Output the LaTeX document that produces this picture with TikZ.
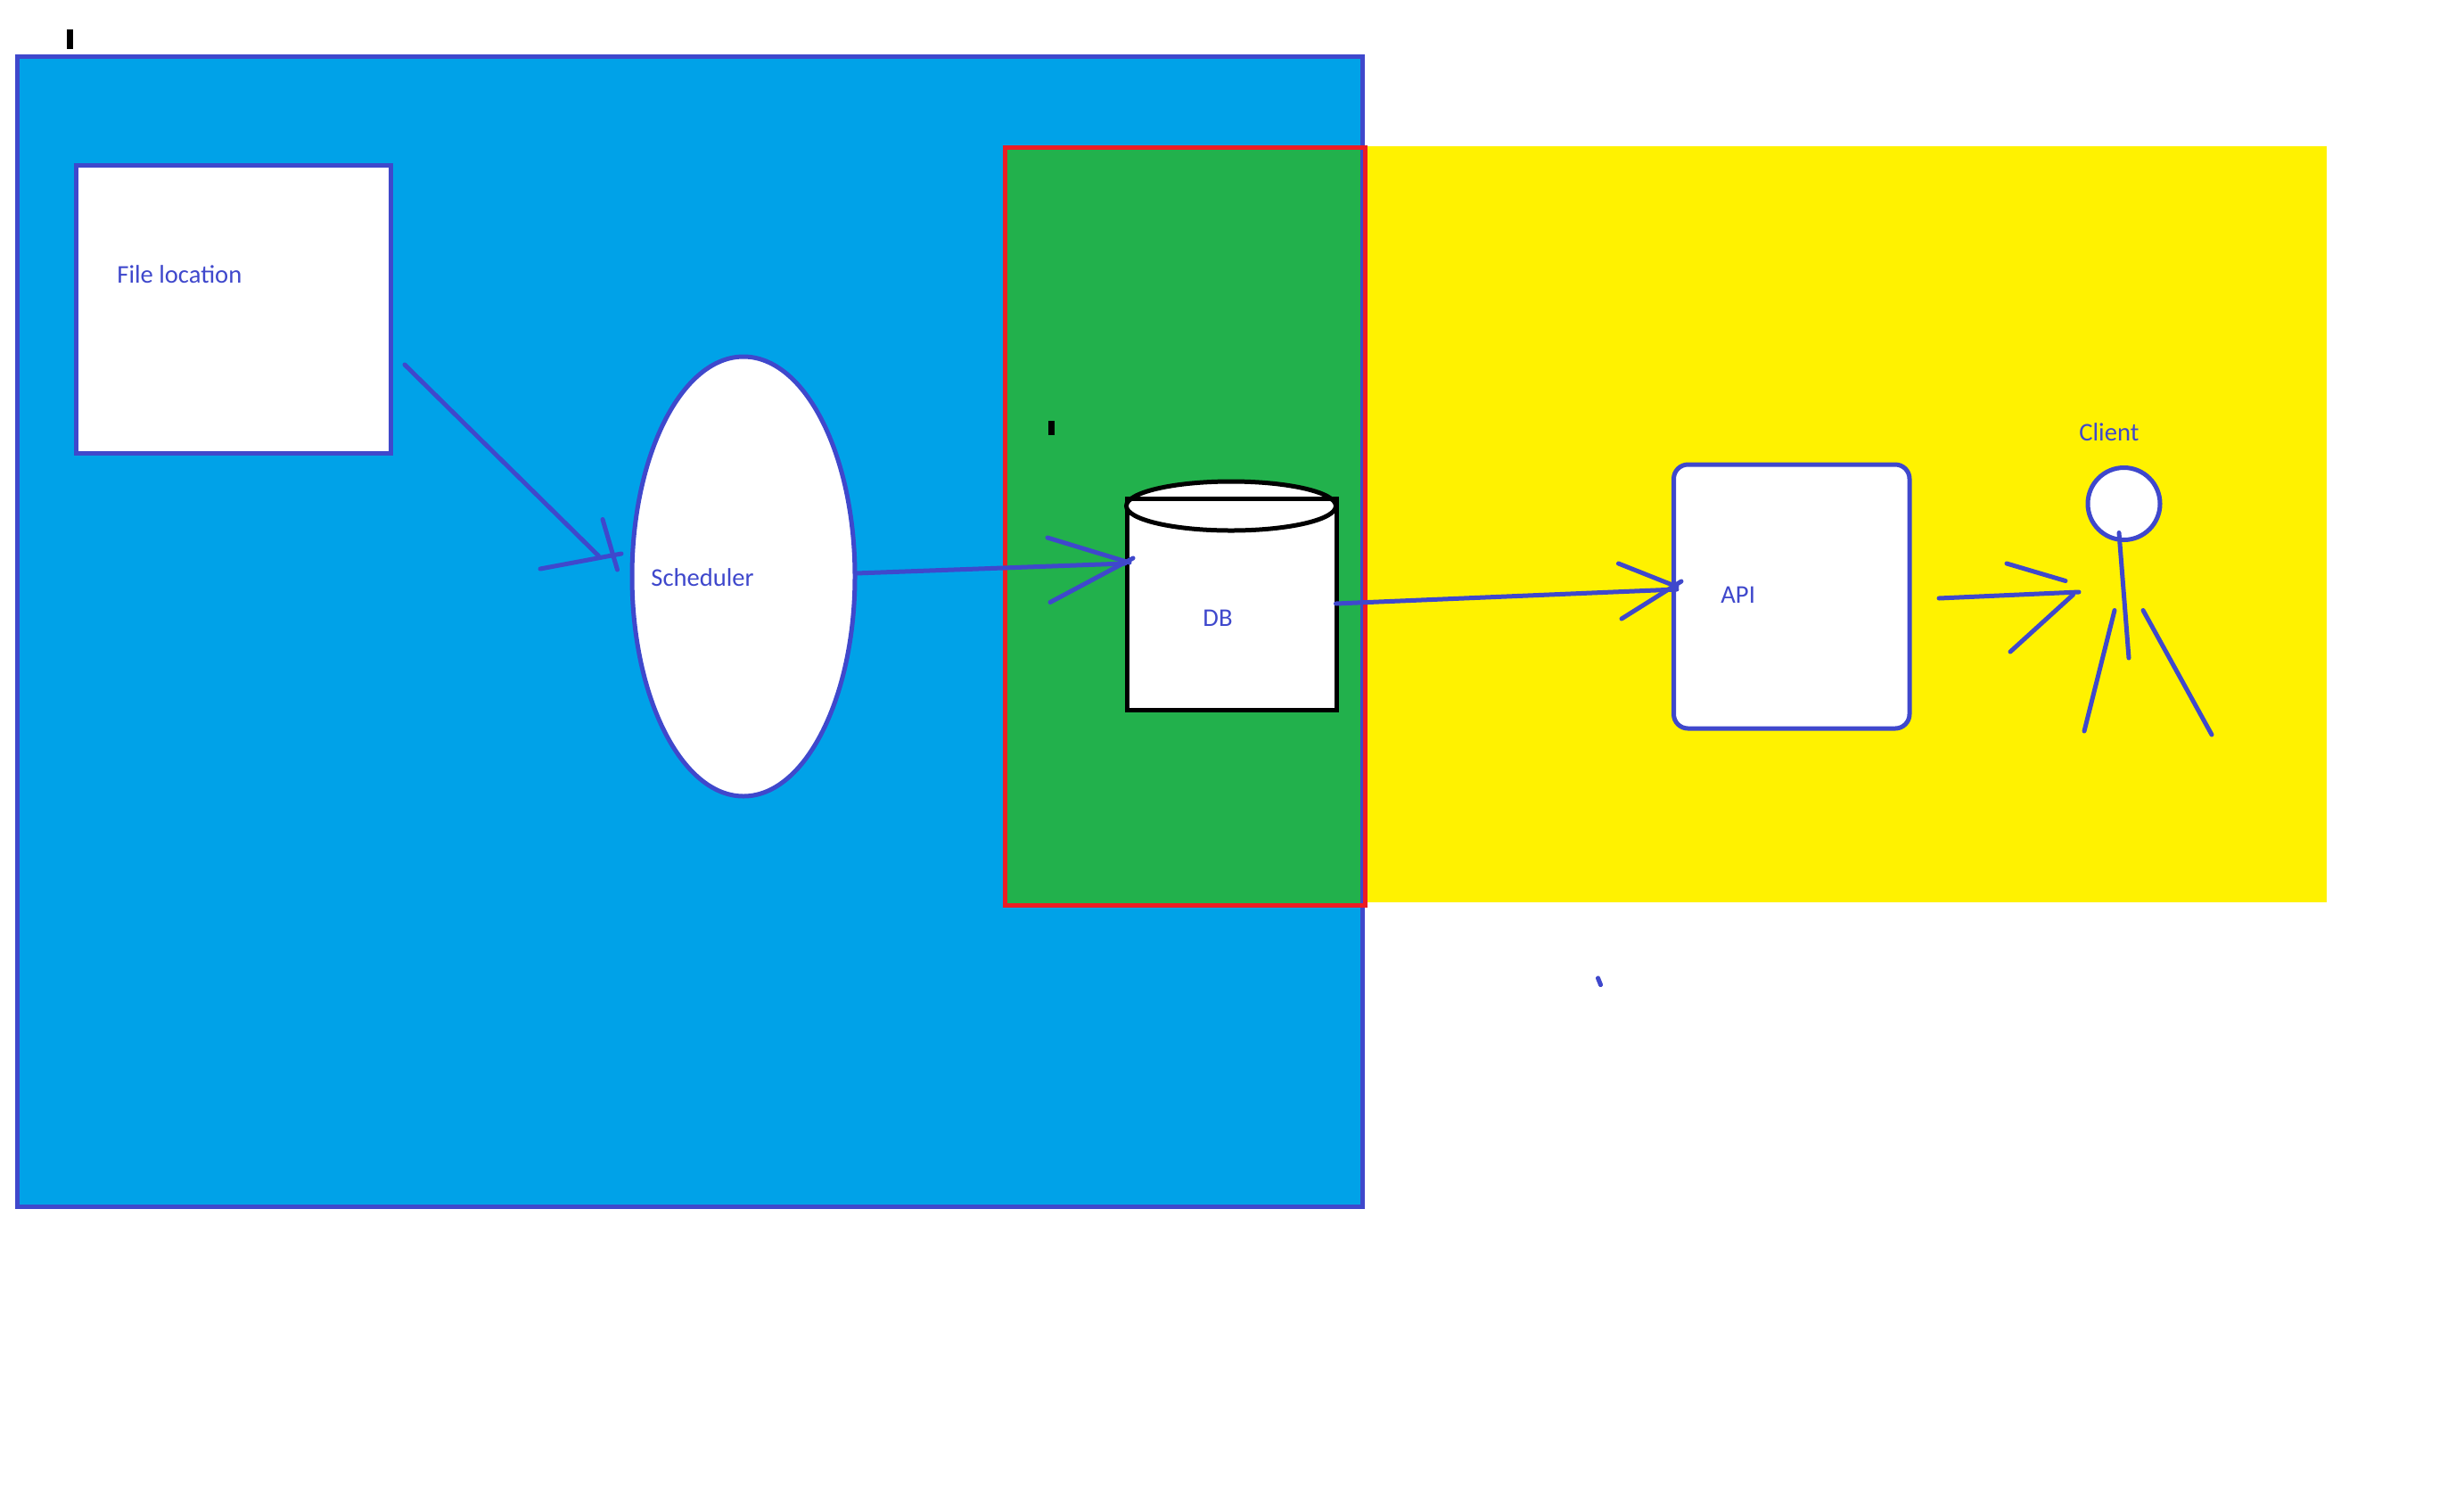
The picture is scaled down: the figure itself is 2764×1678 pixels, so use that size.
\documentclass[tikz,border=0pt]{standalone}
\usepackage{fontspec}
\setmainfont{Carlito}
\usetikzlibrary{shapes.geometric}
\definecolor{PaintIndigo}{HTML}{3F48CC}
\definecolor{PaintBlue}{HTML}{00A2E8}
\definecolor{PaintGreen}{HTML}{22B14C}
\definecolor{PaintYellow}{HTML}{FFF200}
\definecolor{PaintRed}{HTML}{ED1C24}
\tikzset{
  box/.style={draw=PaintIndigo, fill=white, line width=2.5pt, inner sep=0pt, outer sep=0pt, anchor=north west},
  pen/.style={draw=PaintIndigo, line width=2.5pt, line cap=round},
  label/.style={text=PaintIndigo, font=\fontsize{14.3}{16}\selectfont, inner sep=0pt, anchor=base west},
  region/.style={inner sep=0pt, outer sep=0pt, anchor=north west, minimum width=#1},
  dot/.style={fill=black, inner sep=0pt, outer sep=0pt, minimum width=3.5pt, minimum height=11pt}
}
\begin{document}
\begin{tikzpicture}[x=0.5pt, y=-0.5pt]
    \useasboundingbox (0,0) rectangle (2764,1678);
    \fill[white] (0,0) rectangle (2764,1678);

    % Regions
    \node[region=754.5pt, fill=PaintBlue, minimum height=644.75pt] (outer) at (19.5,63.5) {};
    \node[region=540pt, fill=PaintYellow, minimum height=424pt] (yellow) at (1530,164) {};
    \node[region=202pt, fill=PaintGreen, minimum height=425.25pt] (green) at (1127,165) {};
    \draw[PaintIndigo, line width=2.5pt] (outer.north west) rectangle (outer.south east);
    \draw[PaintRed, line width=2.5pt] (green.north west) rectangle (green.south east);

    % Boxes
    \node[box, minimum width=176.5pt, minimum height=161.5pt] (file) at (85.5,185) {};
    \node[box, ellipse, anchor=center, minimum width=125pt, minimum height=246.5pt] (sched) at (834,646.5) {};
    \node[box, draw=black, minimum width=117.25pt, minimum height=118.5pt] (dbbody) at (1264.5,559) {};
    \node[box, draw=black, ellipse, anchor=center, minimum width=117.5pt, minimum height=27.5pt] (dbtop) at (1381,567.5) {};
    \draw[black, line width=2.5pt] (dbbody.north west) -- (dbbody.north east);
    \node[box, rounded corners=8pt, minimum width=132.25pt, minimum height=148pt] (api) at (1877.5,521) {};

    % Labels
    \node[label] (filetxt) at (131,317) {File location};
    \node[label] (schedtxt) at (730,657.5) {Scheduler};
    \node[label] (dbtxt) at (1349,702.5) {DB};
    \node[label] (apitxt) at (1930,676) {API};
    \node[label] (clienttxt) at (2332,494) {Client};

    % Client figure
    \node[box, circle, anchor=center, minimum size=40.5pt] (head) at (2382.5,565) {};
    \coordinate (neck) at (2377,597.5);
    \coordinate (hip) at (2388,738);
    \coordinate (legAa) at (2372,684.5);
    \coordinate (legAb) at (2338,820);
    \coordinate (legBa) at (2404,684.5);
    \coordinate (legBb) at (2481,824);
    \draw[pen] (neck) -- (hip);
    \draw[pen] (legAa) -- (legAb);
    \draw[pen] (legBa) -- (legBb);

    % File location to Scheduler
    \coordinate (fileout) at (454,409);
    \coordinate (schedin) at (671.5,623.5);
    \coordinate (schedA) at (606,638);
    \coordinate (schedB) at (697,621);
    \coordinate (schedC) at (676,582.5);
    \coordinate (schedD) at (692.5,639);
    \draw[pen] (fileout) -- (schedin);
    \draw[pen] (schedA) -- (schedB);
    \draw[pen] (schedC) -- (schedD);

    % Scheduler to DB
    \coordinate (schedout) at (960,643);
    \coordinate (dbin) at (1262,632);
    \coordinate (dbA) at (1175,603);
    \coordinate (dbB) at (1267,631);
    \coordinate (dbC) at (1178,675.5);
    \coordinate (dbD) at (1271,626);
    \draw[pen] (schedout) -- (dbin);
    \draw[pen] (dbA) -- (dbB);
    \draw[pen] (dbC) -- (dbD);

    % DB to API
    \coordinate (dbout) at (1498.5,677);
    \coordinate (apiin) at (1881,661);
    \coordinate (apiA) at (1815.5,632);
    \coordinate (apiB) at (1881,658);
    \coordinate (apiC) at (1819,694);
    \coordinate (apiD) at (1886,652);
    \draw[pen] (dbout) -- (apiin);
    \draw[pen] (apiA) -- (apiB);
    \draw[pen] (apiC) -- (apiD);

    % API to Client
    \coordinate (apiout) at (2175,671);
    \coordinate (clientin) at (2332,664);
    \coordinate (clientA) at (2251,632);
    \coordinate (clientB) at (2317,651.5);
    \coordinate (clientC) at (2255,731);
    \coordinate (clientD) at (2325.5,667);
    \draw[pen] (apiout) -- (clientin);
    \draw[pen] (clientA) -- (clientB);
    \draw[pen] (clientC) -- (clientD);

    % Stray marks
    \node[dot] (markA) at (78.5,44) {};
    \node[dot, minimum height=8pt] (markB) at (1179,480) {};
    \coordinate (markCa) at (1792.5,1097);
    \coordinate (markCb) at (1795.5,1104.5);
    \draw[pen] (markCa) -- (markCb);
\end{tikzpicture}
\end{document}
